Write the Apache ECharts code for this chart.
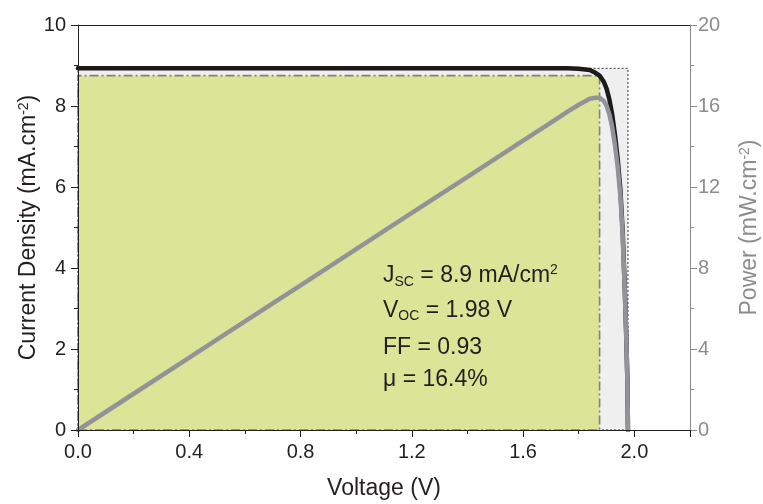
<!DOCTYPE html>
<html>
<head>
<meta charset="utf-8">
<script src="https://cdn.jsdelivr.net/npm/echarts@6/dist/echarts.min.js"></script>
<style>
  html, body { margin: 0; padding: 0; background: #ffffff; }
  #chart { width: 763px; height: 504px; }
</style>
</head>
<body>
<div id="chart"></div>
<script>
// J-V sweep of the cell (V, mA/cm^2) and the corresponding output power (mW/cm^2)
const voltage = [0, 0.2, 0.4, 0.6, 0.8, 1.0, 1.2, 1.4, 1.6, 1.7, 1.76, 1.8, 1.84, 1.86, 1.875,
                 1.89, 1.9, 1.91, 1.92, 1.93, 1.94, 1.95, 1.958, 1.965, 1.971, 1.975, 1.977];
const currentDensity = [8.93, 8.93, 8.93, 8.93, 8.93, 8.93, 8.93, 8.93, 8.93, 8.93, 8.93, 8.92, 8.89, 8.82, 8.75,
                        8.6, 8.43, 8.17, 7.8, 7.3, 6.7, 5.9, 4.9, 3.6, 2.3, 1.2, 0];
const power = [0, 1.79, 3.57, 5.36, 7.14, 8.93, 10.72, 12.5, 14.29, 15.18, 15.72, 16.06, 16.36, 16.41, 16.41,
               16.25, 16.02, 15.6, 14.98, 14.09, 13.0, 11.51, 9.59, 7.07, 4.53, 2.37, 0];

// Figures of merit
const jsc = 8.93;   // short-circuit current density, mA/cm^2
const voc = 1.977;  // open-circuit voltage, V
const vmp = 1.875;  // voltage at maximum power point
const jmp = 8.75;   // current density at maximum power point
const pmax = vmp * jmp;
const fillFactor = pmax / (voc * jsc);

// Axis ranges and tick steps
const voltageRange = [0, 2.2], voltageStep = 0.4;
const currentRange = [0, 10], currentStep = 2;
const powerRange = [0, 20], powerStep = 4;

const FONT = 'Liberation Sans, Arial, Helvetica, sans-serif';
const INK = '#231f20';
const GREY_AXIS = '#8c8c8c';

const jvPoints = voltage.map((v, i) => [v, currentDensity[i]]);
const pvPoints = voltage.map((v, i) => [v, power[i]]);

const chart = echarts.init(document.getElementById('chart'), null, { renderer: 'canvas' });

const subRich = {
  b:   { fontFamily: FONT, fontSize: 23, color: INK, lineHeight: 26 },
  s:   { fontFamily: FONT, fontSize: 14, color: INK, lineHeight: 7, verticalAlign: 'bottom' },
  p:   { fontFamily: FONT, fontSize: 14, color: INK, lineHeight: 10, verticalAlign: 'top' }
};

function statLine(text, y) {
  return {
    type: 'text', left: 383, top: y - 13, z: 20,
    style: { text: text, rich: subRich, fill: INK, font: '23px ' + FONT }
  };
}

const option = {
  animation: false,
  backgroundColor: '#ffffff',
  grid: { left: 78, right: 73, top: 25, bottom: 74, containLabel: false, outerBoundsMode: 'none' },
  xAxis: [{
    type: 'value', min: voltageRange[0], max: voltageRange[1], interval: voltageStep,
    z: 5,
    name: 'Voltage (V)', nameLocation: 'middle', nameGap: 47, nameMoveOverlap: false,
    nameTextStyle: { fontFamily: FONT, fontSize: 23, color: INK },
    axisLine: { show: true, onZero: false, lineStyle: { color: INK, width: 1 } },
    axisTick: { show: true, inside: false, length: 7, lineStyle: { color: INK, width: 1 } },
    minorTick: { show: true, splitNumber: 2, length: 4, lineStyle: { color: INK, width: 1 } },
    axisLabel: { show: true, margin: 12, fontFamily: FONT, fontSize: 20, color: INK,
                 showMaxLabel: false, formatter: v => v.toFixed(1) },
    splitLine: { show: false }
  }, {
    type: 'value', position: 'top', min: voltageRange[0], max: voltageRange[1],
    z: 5,
    axisLine: { show: true, onZero: false, lineStyle: { color: INK, width: 1 } },
    axisTick: { show: false }, axisLabel: { show: false }, splitLine: { show: false }
  }],
  yAxis: [{
    type: 'value', position: 'left', min: currentRange[0], max: currentRange[1], interval: currentStep,
    z: 5,
    name: 'Current Density (mA.cm{sup|-2})', nameLocation: 'middle', nameGap: 38, nameMoveOverlap: false,
    nameTextStyle: {
      fontFamily: FONT, fontSize: 23, color: INK,
      rich: { sup: { fontFamily: FONT, fontSize: 14, color: INK, lineHeight: 10, verticalAlign: 'top' } }
    },
    axisLine: { show: true, onZero: false, lineStyle: { color: INK, width: 1 } },
    axisTick: { show: true, inside: false, length: 7, lineStyle: { color: INK, width: 1 } },
    minorTick: { show: true, splitNumber: 2, length: 4, lineStyle: { color: INK, width: 1 } },
    axisLabel: { margin: 12, fontFamily: FONT, fontSize: 20, color: INK },
    splitLine: { show: false }
  }, {
    type: 'value', position: 'right', min: powerRange[0], max: powerRange[1], interval: powerStep,
    z: 5,
    name: 'Power (mW.cm{sup|-2})', nameLocation: 'middle', nameGap: 48, nameMoveOverlap: false,
    nameTextStyle: {
      fontFamily: FONT, fontSize: 23, color: GREY_AXIS,
      rich: { sup: { fontFamily: FONT, fontSize: 14, color: GREY_AXIS, lineHeight: 10, verticalAlign: 'top' } }
    },
    axisLine: { show: true, onZero: false, lineStyle: { color: GREY_AXIS, width: 1 } },
    axisTick: { show: true, inside: false, length: 7, lineStyle: { color: GREY_AXIS, width: 1 } },
    minorTick: { show: true, splitNumber: 2, length: 4, lineStyle: { color: GREY_AXIS, width: 1 } },
    axisLabel: { margin: 8, fontFamily: FONT, fontSize: 20, color: GREY_AXIS },
    splitLine: { show: false }
  }],
  series: [{
    name: 'J-V', type: 'line', xAxisIndex: 0, yAxisIndex: 0,
    data: jvPoints, showSymbol: false, symbol: 'none', smooth: false, z: 3,
    lineStyle: { color: '#1c1a1b', width: 4.5, cap: 'round', join: 'round' },
    markArea: {
      silent: true,
      data: [
        [{ coord: [0, 0], itemStyle: { color: '#efefef', borderColor: '#333333', borderWidth: 1, borderType: [2, 2] } },
         { coord: [voc, jsc] }],
        [{ coord: [0, 0], itemStyle: { color: '#dbe497', borderColor: '#808080', borderWidth: 1.6, borderType: [9, 3, 2, 3] } },
         { coord: [vmp, jmp] }]
      ]
    }
  }, {
    name: 'Power', type: 'line', xAxisIndex: 0, yAxisIndex: 1,
    data: pvPoints, showSymbol: false, symbol: 'none', smooth: false, z: 4,
    lineStyle: { color: '#929397', width: 4.5, cap: 'round', join: 'round' }
  }],
  graphic: [
    statLine('{b|J}{s|SC}{b| = ' + jsc.toFixed(1) + ' mA/cm}{p|2}', 276),
    statLine('{b|V}{s|OC}{b| = ' + voc.toFixed(2) + ' V}', 312),
    statLine('{b|FF = ' + fillFactor.toFixed(2) + '}', 349),
    statLine('{b|\u03bc = ' + pmax.toFixed(1) + '%}', 381)
  ]
};

chart.setOption(option);
</script>
</body>
</html>
